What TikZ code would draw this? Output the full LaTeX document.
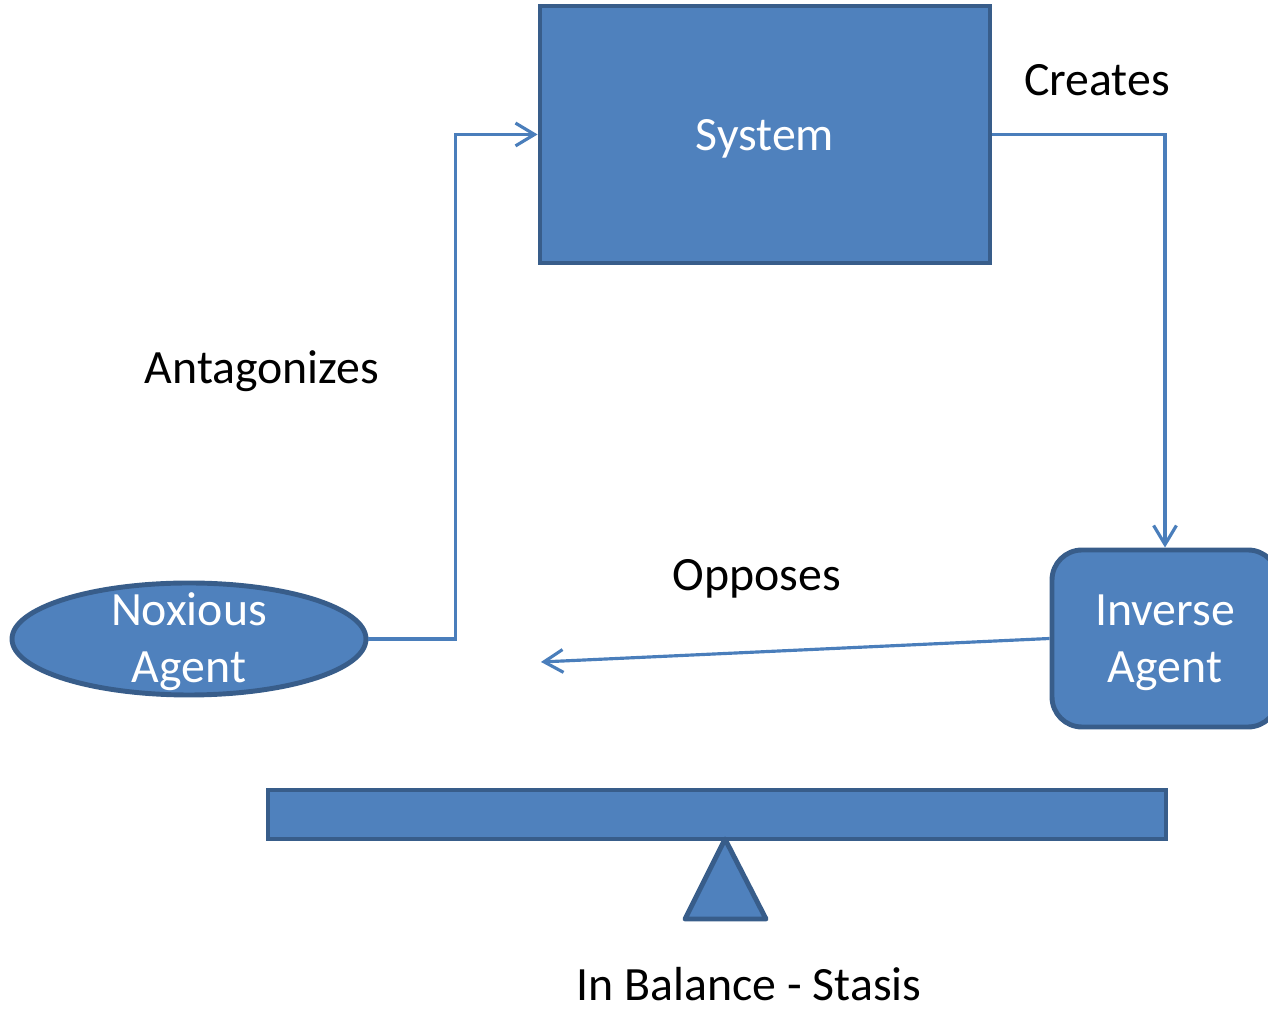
\documentclass[tikz,border=0pt]{standalone}
\usepackage{fontspec}
\setmainfont{Carlito}
\usepackage{tikz}
\usetikzlibrary{calc, arrows.meta, positioning, shapes.geometric}
\definecolor{boxfill}{HTML}{4F81BD}
\definecolor{boxline}{HTML}{385D8A}
\definecolor{linkcol}{HTML}{4A7EBB}
\tikzset{
  blok/.style={draw=boxline, fill=boxfill, line width=1.4pt, text=white, inner sep=0pt},
  link/.style={draw=linkcol, line width=0.9pt, ->},
  lbl/.style={font=\fontsize{13.6}{16.2}\selectfont, align=center, inner sep=0pt}
}

\begin{document}
\begin{tikzpicture}[>={Straight Barb[length=5.4pt,width=6.5pt]}, scale=1]
\useasboundingbox (0,0) rectangle (12.68,10.11);
\begin{scope}
\clip (0,0) rectangle (12.68,10.11);
\node[blok, minimum width=4.5cm, minimum height=2.57cm] (sys) at (7.65,8.765) {};
\node[blok, rounded corners=0.3cm, minimum width=2.26cm, minimum height=1.77cm] (inv) at (11.65,3.725) {};
\node[blok, ellipse, minimum width=3.54cm, minimum height=1.12cm] (nox) at (1.89,3.72) {};
\node[blok, minimum width=8.98cm, minimum height=0.49cm] (bar) at (7.17,1.965) {};
\end{scope}
\draw[boxline, fill=boxfill, line width=1.4pt, line join=round] (7.25,1.72) coordinate (tip) -- (6.85,0.92) -- (7.66,0.92) -- cycle;
\node[lbl, text=white] (syslbl) at (7.65,8.72) {System};
\node[lbl, text=white] (invlbl) at (11.65,3.68) {Inverse\\Agent};
\node[lbl, text=white] (noxlbl) at (1.89,3.69) {Noxious\\Agent};
\coordinate (opp) at (5.41,3.49);
\draw[link] (nox.east) -- ++(0.87,0) |- (sys.west);
\draw[link] (sys.east) -| (inv.north);
\draw[link] (inv.west) -- (opp);
\node[lbl] (creates) at (10.97,9.31) {Creates};
\node[lbl] (antag) at (2.62,6.40) {Antagonizes};
\node[lbl] (opposes) at (7.57,4.32) {Opposes};
\node[lbl] (stasis) at (7.49,0.27) {In Balance - Stasis};
\end{tikzpicture}
\end{document}
